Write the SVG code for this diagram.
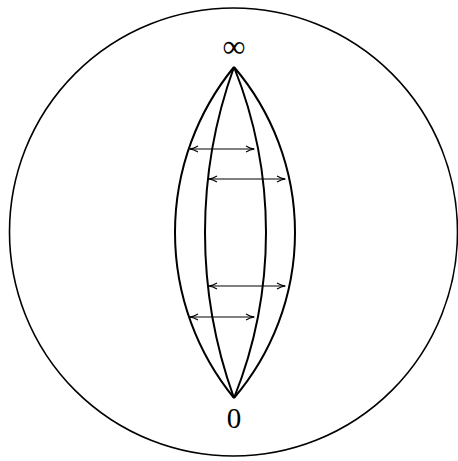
<svg xmlns="http://www.w3.org/2000/svg" width="458" height="461" viewBox="0 0 458 461">
<style>
.c{fill:none;stroke:#000;stroke-width:2}
.a{fill:none;stroke:#000;stroke-width:1.2;marker-start:url(#h);marker-end:url(#h)}
.t{font-family:"Liberation Serif","DejaVu Serif",serif;text-anchor:middle;fill:#000}
</style>
<defs>
<marker id="h" viewBox="0 0 10 10" refX="9" refY="5" markerWidth="10" markerHeight="10" markerUnits="userSpaceOnUse" orient="auto-start-reverse">
<path d="M1,2 Q5,4.5 9.5,5 Q5,5.5 1,8" fill="none" stroke="#000" stroke-width="1.1"/>
</marker>
</defs>
<g id="disk"><circle cx="233.5" cy="232" r="224" fill="none" stroke="#000" stroke-width="1.6"/></g>
<g id="curves">
<path class="c" d="M234,67 A261.6,261.6 0 0 0 234,398"/>
<path class="c" d="M234,67 A486.7,486.7 0 0 0 234,398"/>
<path class="c" d="M234,67 A444,444 0 0 1 234,398"/>
<path class="c" d="M234,67 A255,255 0 0 1 234,398"/>
</g>
<g id="connectors">
<line class="a" x1="190" y1="149" x2="254" y2="149"/>
<line class="a" x1="209" y1="179" x2="285" y2="179"/>
<line class="a" x1="209" y1="286" x2="285" y2="286"/>
<line class="a" x1="190" y1="317" x2="254" y2="317"/>
</g>
<g id="infinity"><text class="t" x="234" y="57" font-size="32">∞</text></g>
<g id="zero"><text class="t" x="234" y="428" font-size="29">0</text></g>
</svg>
